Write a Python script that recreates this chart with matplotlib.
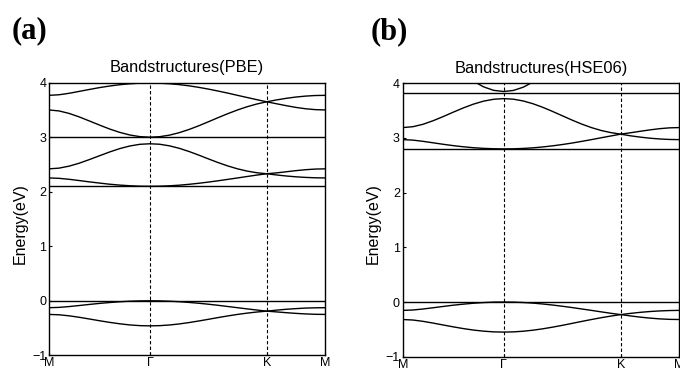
import numpy as np
import matplotlib
matplotlib.use('Agg')
import matplotlib.pyplot as plt

plt.rcParams['font.family'] = ['Liberation Sans', 'DejaVu Sans']

# ---- k-path --------------------------------------------------------------
kpath_labels = ['M', 'Γ', 'K', 'M']
seg_lengths = [0.577, 0.667, 0.333]     # |MΓ|, |ΓK|, |KM| (relative)
seg_intervals = [10, 12, 6]

# ---- PBE bands (eV) ------------------------------------------------------
pbe_flat = [0.00, 2.10, 3.00]
pbe_v_upper = [-0.127, -0.121, -0.106, -0.087, -0.067, -0.048, -0.032, -0.018, -0.008, -0.002, 0.000,
               -0.002, -0.008, -0.017, -0.030, -0.045, -0.063, -0.083, -0.105, -0.127, -0.149, -0.170, -0.190,
               -0.172, -0.156, -0.144, -0.134, -0.129, -0.127]
pbe_v_lower = [-0.250, -0.257, -0.276, -0.303, -0.334, -0.366, -0.396, -0.422, -0.443, -0.456, -0.460,
               -0.456, -0.444, -0.425, -0.400, -0.371, -0.340, -0.308, -0.278, -0.250, -0.226, -0.206, -0.190,
               -0.204, -0.218, -0.231, -0.241, -0.248, -0.250]
pbe_c1 = [2.253, 2.246, 2.228, 2.205, 2.181, 2.159, 2.138, 2.122, 2.110, 2.102, 2.100,
          2.102, 2.109, 2.120, 2.136, 2.155, 2.177, 2.201, 2.227, 2.253, 2.280, 2.306, 2.330,
          2.308, 2.289, 2.274, 2.263, 2.256, 2.253]
pbe_c2 = [2.420, 2.433, 2.470, 2.524, 2.590, 2.660, 2.729, 2.791, 2.839, 2.870, 2.880,
          2.871, 2.842, 2.797, 2.739, 2.673, 2.603, 2.535, 2.473, 2.420, 2.378, 2.348, 2.330,
          2.346, 2.366, 2.387, 2.404, 2.416, 2.420]
pbe_c3 = [3.500, 3.482, 3.436, 3.372, 3.298, 3.223, 3.151, 3.089, 3.041, 3.011, 3.000,
          3.010, 3.038, 3.083, 3.141, 3.209, 3.283, 3.359, 3.432, 3.500, 3.560, 3.610, 3.650,
          3.614, 3.579, 3.547, 3.522, 3.506, 3.500]
pbe_c4 = [3.768, 3.779, 3.806, 3.841, 3.876, 3.910, 3.939, 3.963, 3.980, 3.991, 3.995,
          3.991, 3.981, 3.965, 3.943, 3.915, 3.883, 3.847, 3.809, 3.768, 3.728, 3.688, 3.650,
          3.684, 3.713, 3.737, 3.754, 3.765, 3.768]

# ---- HSE06 bands (eV) ----------------------------------------------------
hse_flat = [0.00, 2.80, 3.82]
hse_v_upper = [-0.153, -0.146, -0.128, -0.105, -0.081, -0.058, -0.039, -0.022, -0.010, -0.002, 0.000,
               -0.002, -0.009, -0.020, -0.036, -0.055, -0.077, -0.101, -0.127, -0.153, -0.180, -0.206, -0.230,
               -0.208, -0.189, -0.174, -0.163, -0.156, -0.153]
hse_v_lower = [-0.320, -0.329, -0.353, -0.385, -0.420, -0.454, -0.486, -0.513, -0.533, -0.546, -0.550,
               -0.546, -0.534, -0.515, -0.490, -0.460, -0.427, -0.391, -0.355, -0.320, -0.287, -0.257, -0.230,
               -0.254, -0.276, -0.294, -0.308, -0.317, -0.320]
hse_c1 = [2.970, 2.961, 2.939, 2.912, 2.885, 2.860, 2.839, 2.822, 2.810, 2.803, 2.800,
          2.802, 2.809, 2.820, 2.836, 2.856, 2.880, 2.907, 2.938, 2.970, 3.004, 3.037, 3.070,
          3.040, 3.016, 2.996, 2.982, 2.973, 2.970]
hse_c2 = [3.190, 3.206, 3.250, 3.315, 3.391, 3.472, 3.550, 3.619, 3.674, 3.708, 3.720,
          3.709, 3.677, 3.626, 3.561, 3.486, 3.407, 3.328, 3.254, 3.190, 3.137, 3.098, 3.070,
          3.095, 3.122, 3.148, 3.170, 3.185, 3.190]
hse_c3 = [5.150, 5.089, 4.937, 4.742, 4.539, 4.347, 4.177, 4.038, 3.935, 3.871, 3.850,
          3.870, 3.929, 4.024, 4.154, 4.314, 4.500, 4.705, 4.924, 5.150, 5.376, 5.595, 5.800,
          5.614, 5.454, 5.324, 5.229, 5.170, 5.150]

yticks = [-1, 0, 1, 2, 3, 4]

# ---- k coordinates -------------------------------------------------------
k = [0.0]
for L, n in zip(seg_lengths, seg_intervals):
    start = k[-1]
    k.extend(start + L * np.arange(1, n + 1) / n)
k = np.array(k)
knodes = np.concatenate([[0.0], np.cumsum(seg_lengths)])

fig = plt.figure(figsize=(6.8, 3.7), dpi=100)
W, H = 680.0, 370.0


def draw(ax, flats, bands, title):
    for e in flats:
        ax.plot(k, np.full_like(k, e), color='black', lw=1.0)
    for b in bands:
        ax.plot(k, b, color='black', lw=1.0)
    for xn in knodes[1:-1]:
        ax.axvline(xn, color='black', lw=0.8, ls=(0, (3, 2)))
    ax.set_xlim(knodes[0], knodes[-1])
    ax.set_ylim(-1, 4)
    ax.set_yticks(yticks)
    ax.set_yticklabels([str(v).replace('-', '\u2212') for v in yticks])
    ax.set_xticks(knodes)
    ax.set_xticklabels(kpath_labels)
    ax.tick_params(direction='in', length=2.5, width=0.8, labelsize=9,
                   top=False, right=False)
    ax.tick_params(axis='x', pad=1.5)
    ax.tick_params(axis='y', pad=2)
    for s in ax.spines.values():
        s.set_linewidth(1.0)
    ax.set_title(title, fontsize=11.8, pad=7.5)


ax_a = fig.add_axes([49 / W, 14.7 / H, 276 / W, 272.6 / H])
draw(ax_a, pbe_flat, [pbe_v_upper, pbe_v_lower, pbe_c1, pbe_c2, pbe_c3, pbe_c4],
     'Bandstructures(PBE)')

ax_b = fig.add_axes([402.7 / W, 13.3 / H, 276.3 / W, 273.4 / H])
draw(ax_b, hse_flat, [hse_v_upper, hse_v_lower, hse_c1, hse_c2, hse_c3],
     'Bandstructures(HSE06)')

fig.text(20 / W, 1 - 224 / H, 'Energy(eV)', rotation=90, ha='center', va='center', fontsize=11.5)
fig.text(373 / W, 1 - 224 / H, 'Energy(eV)', rotation=90, ha='center', va='center', fontsize=11.5)

fig.text(11.5 / W, 1 - 30.5 / H, '(a)', fontsize=22, fontweight='bold',
         family='Liberation Serif', ha='left', va='center')
fig.text(370.5 / W, 1 - 31.5 / H, '(b)', fontsize=22, fontweight='bold',
         family='Liberation Serif', ha='left', va='center')

fig.savefig('out.png', dpi=100)
